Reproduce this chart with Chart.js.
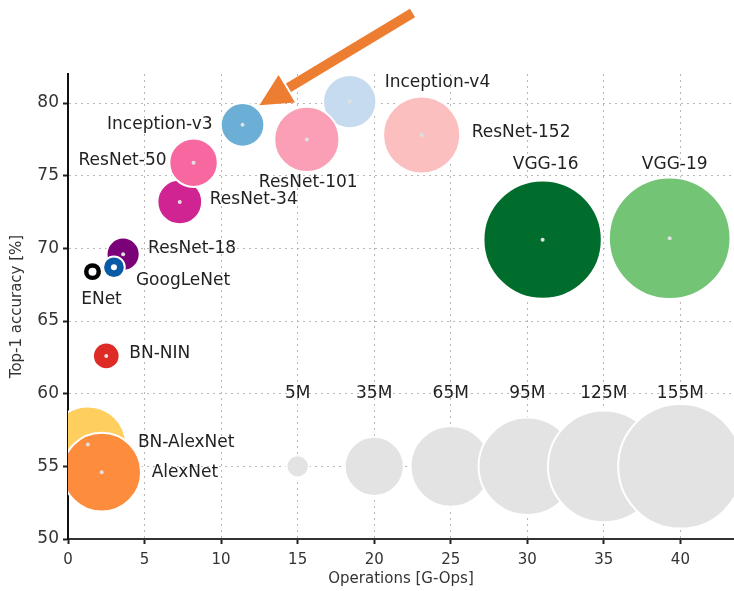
<!DOCTYPE html>
<html>
<head>
<meta charset="utf-8">
<script src="https://cdn.jsdelivr.net/npm/chart.js@4.4.1/dist/chart.umd.min.js"></script>
<style>
  html, body { margin: 0; padding: 0; background: #ffffff; }
  #wrap { width: 734px; height: 591px; }
</style>
</head>
<body>
<div id="wrap"><canvas id="chart"></canvas></div>
<script>
// model data (draw order: later ones sit on top)
const models = ['BN-AlexNet', 'AlexNet', 'BN-NIN', 'ENet', 'ResNet-18', 'GoogLeNet', 'ResNet-34',
  'ResNet-50', 'Inception-v3', 'Inception-v4', 'ResNet-101', 'ResNet-152', 'VGG-16', 'VGG-19'];
const operations = [1.3, 2.2, 2.5, 1.6, 3.6, 3.0, 7.3, 8.2, 11.4, 18.4, 15.6, 23.1, 31.0, 39.3];
const accuracy = [56.5, 54.6, 62.6, 68.4, 69.6, 68.7, 73.2, 75.9, 78.5, 80.1, 77.5, 77.8, 70.6, 70.7];
const paramsM = [58, 62, 7.1, 3.6, 11, 4.7, 20, 23.5, 19, 28.5, 42.5, 59.5, 140, 148];

// reference sizes along the bottom
const refLabels = ['5M', '35M', '65M', '95M', '125M', '155M'];
const refParams = [5, 35, 65, 95, 125, 155];
const refOperations = [15, 20, 25, 30, 35, 40];
const refAccuracy = [55, 55, 55, 55, 55, 55];

const xTicks = [0, 5, 10, 15, 20, 25, 30, 35, 40];
const yTicks = [50, 55, 60, 65, 70, 75, 80];

// styles
const modelColors = ['#fecf5f', '#fd8d3c', '#de2b26', '#000000', '#7a0177', '#0b5aa6', '#cf2492',
  '#f768a1', '#6baed6', '#c6dbef', '#fa9fb5', '#fcbfbf', '#006d2c', '#74c476'];
const holeSize = [2, 2, 2, 4, 2, 3, 2, 2, 2, 2, 2, 2, 2, 2];
const labelPos = [
  { dx: 50, dy: -2, align: 'left' },    // BN-AlexNet
  { dx: 50, dy: 0, align: 'left' },     // AlexNet
  { dx: 23, dy: -2, align: 'left' },    // BN-NIN
  { dx: 9, dy: 28, align: 'center' },   // ENet
  { dx: 25, dy: -6, align: 'left' },    // ResNet-18
  { dx: 22, dy: 13, align: 'left' },    // GoogLeNet
  { dx: 30, dy: -2, align: 'left' },    // ResNet-34
  { dx: -27, dy: -2, align: 'right' },  // ResNet-50
  { dx: -30, dy: 0, align: 'right' },   // Inception-v3
  { dx: 35, dy: -19, align: 'left' },   // Inception-v4
  { dx: -48, dy: 43, align: 'left' },   // ResNet-101
  { dx: 50, dy: -2, align: 'left' },    // ResNet-152
  { dx: 3, dy: -75, align: 'center' },  // VGG-16
  { dx: 5, dy: -74, align: 'center' }   // VGG-19
];
const radiusPerSqrtM = 5.0;
const FONT = "'DejaVu Sans', Verdana, sans-serif";
const arrowTip = { x: 12.5, y: 79.85 };
const arrowTail = { x: 22.5, y: 86.2 };

const modelData = operations.map((x, i) => ({ x: x, y: accuracy[i], r: radiusPerSqrtM * Math.sqrt(paramsM[i]) }));
const refData = refOperations.map((x, i) => ({ x: x, y: refAccuracy[i], r: radiusPerSqrtM * Math.sqrt(refParams[i]) }));
const dotData = operations.map((x, i) => ({ x: x, y: accuracy[i] }));

const labelsPlugin = {
  id: 'bubbleLabels',
  afterDraw(chart) {
    const ctx = chart.ctx;
    const xs = chart.scales.x, ys = chart.scales.y;
    ctx.save();
    ctx.fillStyle = '#222';
    ctx.font = '17px ' + FONT;
    ctx.textBaseline = 'middle';
    models.forEach((name, i) => {
      const p = labelPos[i];
      ctx.textAlign = p.align;
      ctx.fillText(name, xs.getPixelForValue(operations[i]) + p.dx, ys.getPixelForValue(accuracy[i]) + p.dy);
    });
    ctx.textAlign = 'center';
    refLabels.forEach((name, i) => {
      ctx.fillText(name, xs.getPixelForValue(refOperations[i]), ys.getPixelForValue(60));
    });

    // orange arrow pointing at Inception-v3
    const tx = xs.getPixelForValue(arrowTip.x), ty = ys.getPixelForValue(arrowTip.y);
    const sx = xs.getPixelForValue(arrowTail.x), sy = ys.getPixelForValue(arrowTail.y);
    const len = Math.hypot(sx - tx, sy - ty);
    const ux = (sx - tx) / len, uy = (sy - ty) / len;
    const headLen = 32, headHalf = 16;
    const bx = tx + ux * headLen, by = ty + uy * headLen;
    ctx.strokeStyle = '#ed7d31';
    ctx.fillStyle = '#ed7d31';
    ctx.lineWidth = 10;
    ctx.lineCap = 'butt';
    ctx.beginPath();
    ctx.moveTo(sx, sy);
    ctx.lineTo(bx + ux * 2, by + uy * 2);
    ctx.stroke();
    ctx.beginPath();
    ctx.moveTo(tx, ty);
    ctx.lineTo(bx - uy * headHalf, by + ux * headHalf);
    ctx.lineTo(bx + uy * headHalf, by - ux * headHalf);
    ctx.closePath();
    ctx.fill();
    ctx.restore();
  }
};

const gridOpts = {
  color: '#b8b8b8',
  lineWidth: 1,
  drawTicks: true,
  tickLength: 5,
  tickColor: '#222',
  tickWidth: 2
};

new Chart(document.getElementById('chart'), {
  type: 'bubble',
  data: {
    datasets: [
      {
        label: 'centres',
        type: 'scatter',
        data: dotData,
        order: 0,
        pointRadius: holeSize,
        pointBackgroundColor: holeSize.map(s => s > 2 ? '#ffffff' : '#e0e0e0'),
        pointBorderWidth: 0,
        pointHoverRadius: holeSize
      },
      {
        label: 'models',
        data: modelData,
        order: 1,
        backgroundColor: modelColors,
        borderColor: '#ffffff',
        borderWidth: 2,
        hoverBorderWidth: 2
      },
      {
        label: 'reference sizes',
        data: refData,
        order: 2,
        backgroundColor: '#e3e3e3',
        borderColor: '#ffffff',
        borderWidth: 2
      }
    ]
  },
  options: {
    responsive: true,
    maintainAspectRatio: false,
    animation: false,
    layout: { autoPadding: false, padding: { top: 74, right: 0, left: 0, bottom: 0 } },
    plugins: {
      legend: { display: false },
      tooltip: { enabled: false }
    },
    scales: {
      x: {
        type: 'linear',
        min: 0,
        max: 43.5,
        z: 1,
        afterBuildTicks: s => { s.ticks = xTicks.map(v => ({ value: v })); },
        afterFit: s => { s.height = 52; },
        ticks: { color: '#333', font: { family: FONT, size: 15 }, padding: 7 },
        grid: gridOpts,
        border: { color: '#333', width: 2, dash: [2, 4] },
        title: {
          display: true,
          text: 'Operations [G-Ops]',
          color: '#333',
          font: { family: FONT, size: 15 },
          padding: { top: 0, bottom: 3 }
        }
      },
      y: {
        type: 'linear',
        min: 50,
        max: 82,
        z: 1,
        afterBuildTicks: s => { s.ticks = yTicks.map(v => ({ value: v })); },
        afterFit: s => { s.width = 68; },
        ticks: { color: '#333', font: { family: FONT, size: 17 }, padding: 4 },
        grid: gridOpts,
        border: { color: '#111', width: 2, dash: [2, 4] },
        title: {
          display: true,
          text: 'Top-1 accuracy [%]',
          color: '#333',
          font: { family: FONT, size: 15 },
          padding: { top: 8, bottom: 0 }
        }
      }
    }
  },
  plugins: [labelsPlugin]
});
</script>
</body>
</html>
